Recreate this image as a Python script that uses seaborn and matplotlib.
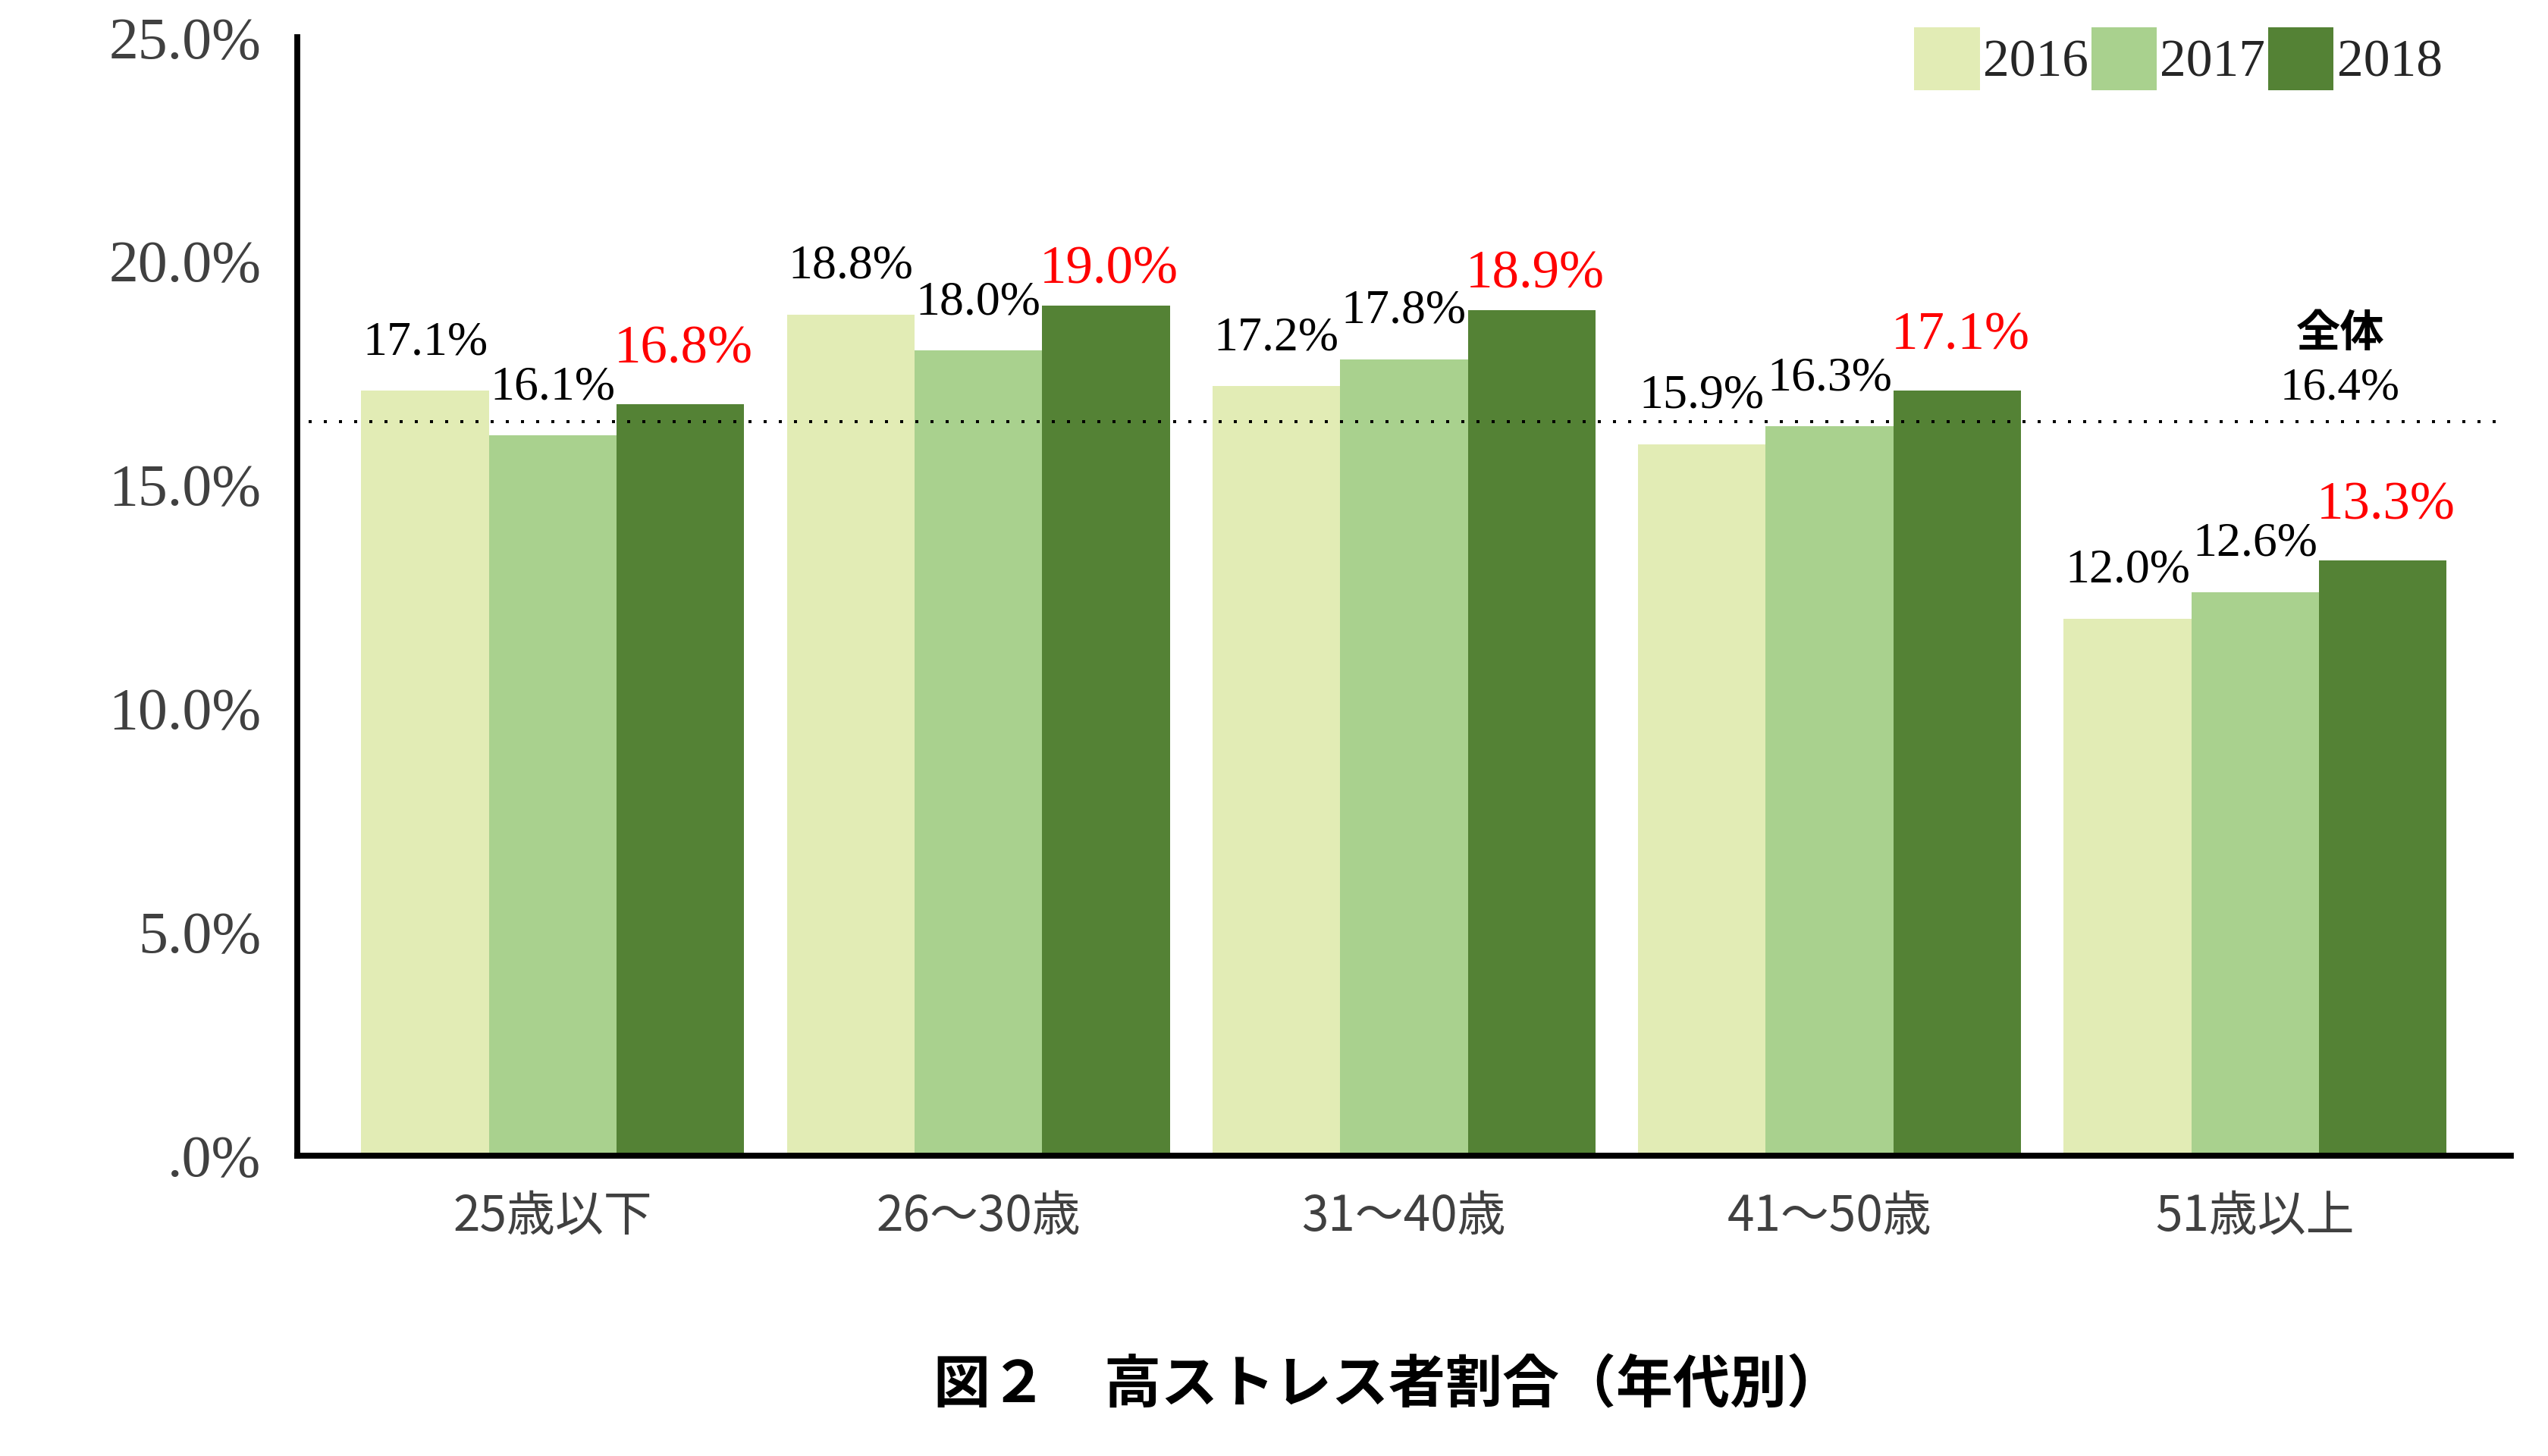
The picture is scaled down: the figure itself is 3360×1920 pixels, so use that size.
import numpy as np
import pandas as pd
import matplotlib
matplotlib.use('Agg')
import matplotlib.pyplot as plt
import seaborn as sns

# ---- data ----
categories = ['25歳以下', '26～30歳', '31～40歳', '41～50歳', '51歳以上']
years = ['2016', '2017', '2018']
values_2016 = [17.1, 18.8, 17.2, 15.9, 12.0]
values_2017 = [16.1, 18.0, 17.8, 16.3, 12.6]
values_2018 = [16.8, 19.0, 18.9, 17.1, 13.3]
overall_value = 16.4
overall_label = '全体'
y_ticks = [0, 5, 10, 15, 20, 25]
y_tick_labels = ['.0%', '5.0%', '10.0%', '15.0%', '20.0%', '25.0%']
title = '図２　高ストレス者割合（年代別）'

colors = ['#E2ECB5', '#A9D18E', '#548235']

rows = []
for yr, vals in zip(years, [values_2016, values_2017, values_2018]):
    for c, v in zip(categories, vals):
        rows.append({'age': c, 'year': yr, 'value': v})
df = pd.DataFrame(rows)

sns.set_style('white')
plt.rcParams['font.family'] = ['Liberation Serif', 'Noto Sans CJK JP', 'DejaVu Sans']

SERIF = ['Liberation Serif', 'DejaVu Serif']
JP = ['Noto Sans CJK JP', 'DejaVu Sans']
GRAY = '#404040'

fig = plt.figure(figsize=(16.8, 9.6), dpi=200)
ax = fig.add_axes([0.1167, 0.2065, 0.8686, 0.7678])

sns.barplot(data=df, x='age', y='value', hue='year', order=categories,
            hue_order=years, palette=colors, width=0.9, gap=0,
            saturation=1, errorbar=None, ax=ax, linewidth=0, edgecolor='none')

ax.set_xlim(-0.6, 4.6)
ax.set_ylim(0, 25)
ax.set_xlabel('')
ax.set_ylabel('')

for s in ['top', 'right']:
    ax.spines[s].set_visible(False)
for s in ['left', 'bottom']:
    ax.spines[s].set_color('black')
    ax.spines[s].set_linewidth(2.8)

ax.set_yticks(y_ticks)
ax.set_yticklabels(y_tick_labels, fontfamily=SERIF, fontsize=28, color=GRAY)
ax.set_xticks(range(len(categories)))
ax.set_xticklabels(categories, fontfamily=JP, fontsize=23, color=GRAY)
ax.tick_params(axis='both', direction='out', length=8.6, width=1.6, color=GRAY)
ax.tick_params(axis='x', pad=8.5)
ax.tick_params(axis='y', pad=8.5)

# overall dotted line
ax.axhline(overall_value, xmin=0.005, xmax=0.996, color='black', lw=1.44,
           linestyle=(0, (1, 4)), zorder=5)

# bar labels
for j, container in enumerate(ax.containers):
    for bar in container:
        h = bar.get_height()
        xc = bar.get_x() + bar.get_width() / 2
        if j == 2:
            off = 17 if h >= 18.5 else 26
            ax.annotate(f'{h:.1f}%', xy=(xc, h), xytext=(1.5, off),
                        textcoords='offset points', ha='center', va='center',
                        fontsize=25.5, color='red', fontfamily=SERIF, zorder=6)
        else:
            ax.annotate(f'{h:.1f}%', xy=(xc, h), xytext=(0, 22.7),
                        textcoords='offset points', ha='center', va='center',
                        fontsize=23, color='black', fontfamily=SERIF, zorder=6)

# overall annotation
ax.annotate(f'{overall_value:.1f}%', xy=(0.923, overall_value),
            xycoords=('axes fraction', 'data'), xytext=(0, 16.2),
            textcoords='offset points', ha='center', va='center',
            fontsize=22, color='black', fontfamily=SERIF)
ax.annotate(overall_label, xy=(0.923, overall_value),
            xycoords=('axes fraction', 'data'), xytext=(0, 41.8),
            textcoords='offset points', ha='center', va='center',
            fontsize=21, color='black', fontfamily=JP, fontweight='bold')

# legend
handles, labels = ax.get_legend_handles_labels()
if ax.get_legend() is not None:
    ax.get_legend().remove()
fig.legend(handles, labels, loc='upper right', bbox_to_anchor=(0.9585, 0.981),
           ncol=3, frameon=False, prop={'family': SERIF, 'size': 25},
           handlelength=1.24, handleheight=1.45, handletextpad=0.06,
           columnspacing=0.06, borderpad=0, borderaxespad=0)

# title
fig.text(0.545, 0.048, title, ha='center', va='center', fontsize=27,
         fontweight='bold', fontfamily=JP, color='black')

fig.savefig('out.png', dpi=200)
